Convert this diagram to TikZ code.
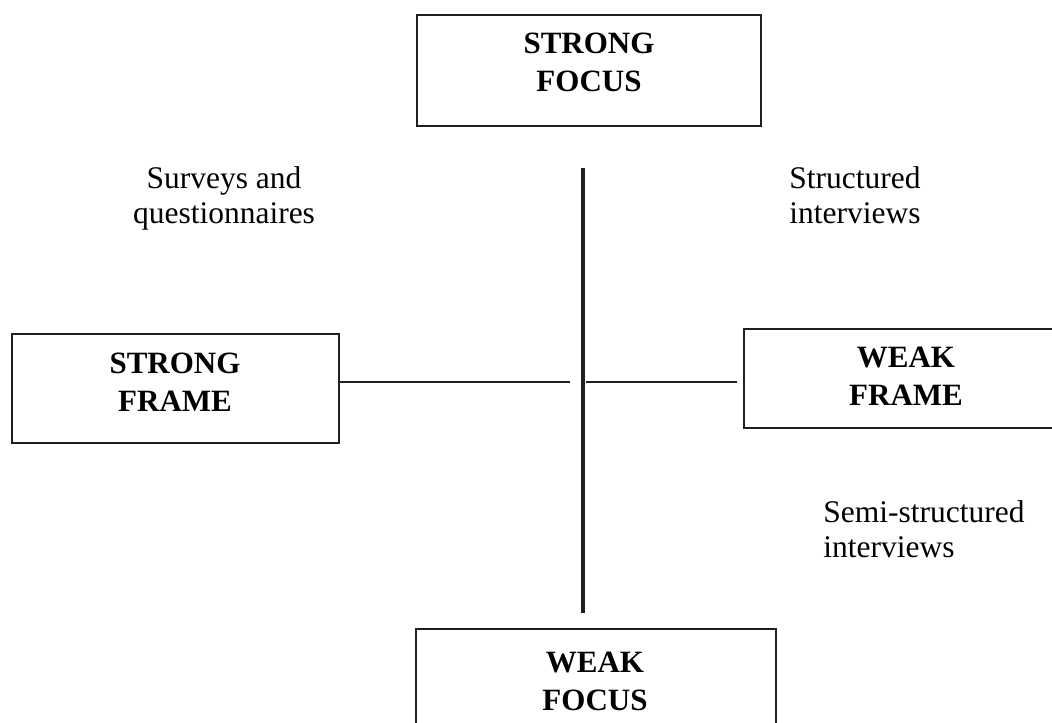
\documentclass[tikz,border=0pt]{standalone}
\usepackage{fontspec}
\setmainfont{Liberation Serif}
\begin{document}
\begin{tikzpicture}[x=0.5pt,y=-0.5pt,
  frame/.style={draw=black!88,line width=1pt,rectangle,inner sep=0pt},
  head/.style={font=\bfseries\fontsize{15.5}{19}\selectfont,align=center,inner sep=0pt,anchor=north},
  method/.style={font=\fontsize{15.75}{17.5}\selectfont,inner sep=0pt},
  axis/.style={draw=black!88,line width=2pt},
  arm/.style={draw=black!88,line width=0.75pt}]
\useasboundingbox (0,0) rectangle (1052,722);
\clip (0,0) rectangle (1052,722);

% the four boxes
\node[frame,minimum width=172pt,minimum height=55.5pt] (focusbox) at (589,70.5) {};
\node[frame,minimum width=163.5pt,minimum height=54.5pt] (sframebox) at (175.5,388.5) {};
\node[frame,minimum width=163pt,minimum height=49.5pt] (wframebox) at (906.5,378.5) {};
\node[frame,minimum width=180pt,minimum height=60pt] (wfocusbox) at (596,689) {};

% box captions
\node[head] (focustxt) at (589,33) {STRONG\\FOCUS};
\node[head] (sframetxt) at (175,353) {STRONG\\FRAME};
\node[head] (wframetxt) at (906,347) {WEAK\\FRAME};
\node[head] (wfocustxt) at (595,652) {WEAK\\FOCUS};

% vertical axis and the two horizontal arms
\coordinate (vtop) at (583,168);
\coordinate (vbot) at (583,613);
\coordinate (lend) at (570,382);
\coordinate (rstart) at (586,382);
\coordinate (rend) at (737,382);
\draw[axis] (vtop) -- (vbot);
\draw[arm] (sframebox.east |- lend) -- (lend);
\draw[arm] (rstart) -- (rend);

% research methods
\node[method,align=center,anchor=north] (surveys) at (224,166) {Surveys and\\questionnaires};
\node[method,align=center,anchor=north] (structured) at (855,166) {Structured\\interviews};
\node[method,align=left,anchor=north west] (semi) at (823,500) {Semi-structured\\interviews};
\end{tikzpicture}
\end{document}
